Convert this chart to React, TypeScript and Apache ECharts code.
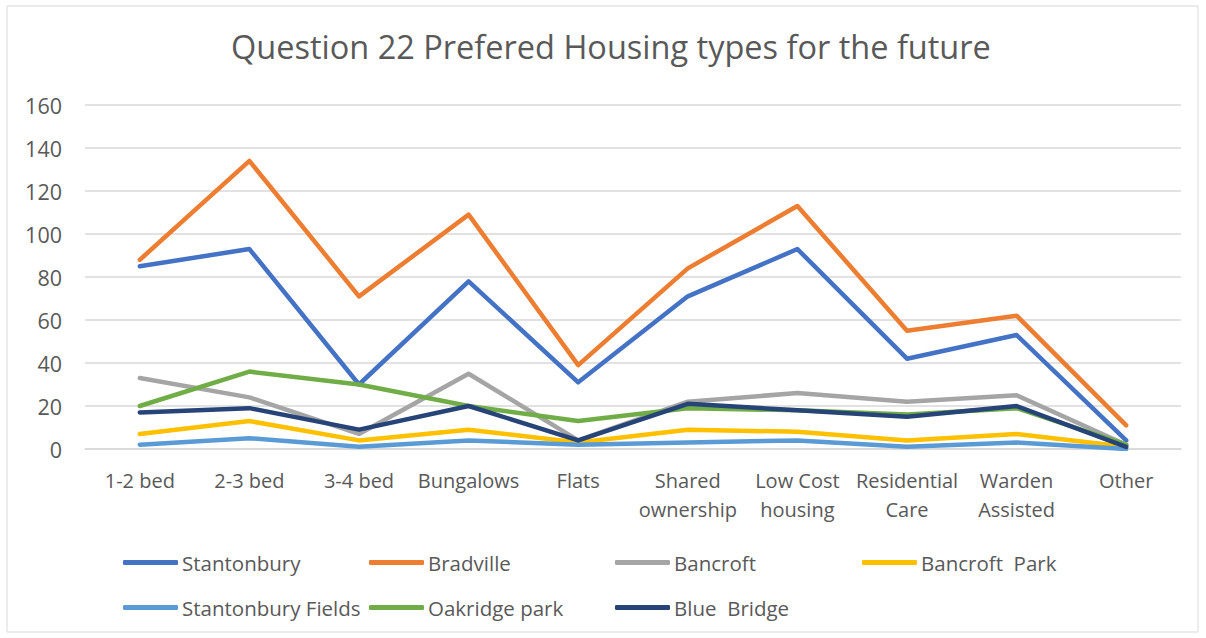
import React, { useEffect, useRef } from "react";
import * as echarts from "echarts";

const categories = [
  "1-2 bed",
  "2-3 bed",
  "3-4 bed",
  "Bungalows",
  "Flats",
  "Shared\nownership",
  "Low Cost\nhousing",
  "Residential\nCare",
  "Warden\nAssisted",
  "Other",
];

const seriesNames = [
  "Stantonbury",
  "Bradville",
  "Bancroft",
  "Bancroft  Park",
  "Stantonbury Fields",
  "Oakridge park",
  "Blue  Bridge",
];

const stantonbury = [85, 93, 30, 78, 31, 71, 93, 42, 53, 4];
const bradville = [88, 134, 71, 109, 39, 84, 113, 55, 62, 11];
const bancroft = [33, 24, 7, 35, 4, 22, 26, 22, 25, 2];
const bancroftPark = [7, 13, 4, 9, 3, 9, 8, 4, 7, 1];
const stantonburyFields = [2, 5, 1, 4, 2, 3, 4, 1, 3, 0];
const oakridgePark = [20, 36, 30, 20, 13, 19, 18, 16, 19, 2];
const blueBridge = [17, 19, 9, 20, 4, 21, 18, 15, 20, 1];

const seriesValues = [
  stantonbury,
  bradville,
  bancroft,
  bancroftPark,
  stantonburyFields,
  oakridgePark,
  blueBridge,
];

const colors = ["#4472C4", "#ED7D31", "#A5A5A5", "#FFC000", "#5B9BD5", "#70AD47", "#264478"];

const FONT = "'Open Sans', 'Noto Sans', sans-serif";
const TEXT = "#595959";

export default function App() {
  const ref = useRef<HTMLDivElement>(null);

  useEffect(() => {
    document.body.style.margin = "0";
    if (!ref.current) return;
    const chart = echarts.init(ref.current, undefined, { renderer: "svg" });

    const legendCols = [123, 369, 615, 862];
    const legendRows = [552, 597];
    const legends = seriesNames.map((name, i) => ({
      show: true,
      data: [name],
      left: legendCols[i % 4],
      top: legendRows[Math.floor(i / 4)],
      icon: "roundRect",
      itemWidth: 55,
      itemHeight: 5,
      padding: 0,
      textStyle: { color: TEXT, fontSize: 20.5, fontFamily: FONT, padding: [0, 0, 0, -1] },
      selectedMode: false,
    }));

    chart.setOption({
      animation: false,
      color: colors,
      title: {
        text: "Question 22 Prefered Housing types for the future",
        left: 231,
        top: 30,
        padding: 0,
        textStyle: { color: TEXT, fontSize: 32.5, fontWeight: "normal", fontFamily: FONT },
      },
      legend: legends,
      grid: { left: 85, right: 25, top: 105, bottom: 189, containLabel: false },
      xAxis: {
        type: "category",
        data: categories,
        boundaryGap: true,
        axisLine: { show: true, lineStyle: { color: "#d9d9d9", width: 1.5 } },
        axisTick: { show: false },
        axisLabel: {
          color: TEXT,
          fontSize: 20,
          fontFamily: FONT,
          lineHeight: 29,
          margin: 17,
          interval: 0,
        },
      },
      yAxis: {
        type: "value",
        min: 0,
        max: 160,
        interval: 20,
        axisLine: { show: false },
        axisTick: { show: false },
        splitLine: { lineStyle: { color: "#d9d9d9", width: 1.5 } },
        axisLabel: { color: TEXT, fontSize: 21.5, fontFamily: FONT, margin: 23 },
      },
      graphic: [
        {
          type: "rect",
          shape: { x: 7, y: 6, width: 1191, height: 626 },
          style: { fill: "none", stroke: "#d9d9d9", lineWidth: 1 },
          silent: true,
        },
      ],
      series: seriesNames.map((name, i) => ({
        name,
        type: "line",
        data: seriesValues[i],
        symbol: "none",
        lineStyle: { width: 4.5, color: colors[i], cap: "round", join: "round" },
        itemStyle: { color: colors[i] },
      })),
    });

    return () => chart.dispose();
  }, []);

  return <div ref={ref} style={{ width: 1206, height: 638 }} />;
}
